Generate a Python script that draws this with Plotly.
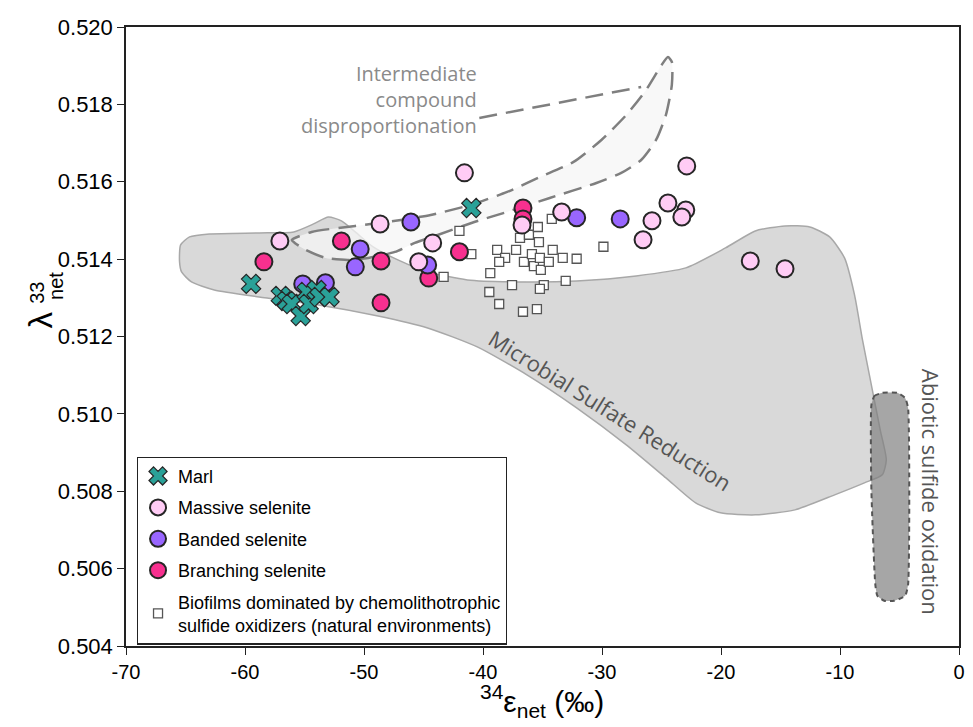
import plotly.graph_objects as go

# ---- sample data -------------------------------------------------------
marl_eps = [-59.49, -56.99, -56.49, -56.07, -55.32, -54.82, -54.65, -53.99, -53.74, -52.90, -40.98]
marl_lam = [0.51336, 0.51305, 0.51292, 0.51284, 0.51253, 0.51315, 0.51284, 0.51320, 0.51302, 0.51302, 0.51532]

massive_eps = [-57.07, -48.65, -41.56, -44.23, -45.40, -36.72, -33.39, -22.88, -24.46, -22.96,
               -23.29, -25.80, -26.55, -17.54, -14.62]
massive_lam = [0.51447, 0.51491, 0.51623, 0.51442, 0.51393, 0.51488, 0.51522, 0.51641, 0.51545, 0.51527,
               0.51509, 0.51499, 0.51450, 0.51395, 0.51375]

banded_eps = [-55.15, -53.24, -56.74, -50.73, -50.32, -46.06, -44.65, -32.13, -28.47]
banded_lam = [0.51336, 0.51339, 0.51297, 0.51380, 0.51426, 0.51496, 0.51385, 0.51507, 0.51504]

branching_eps = [-58.41, -51.90, -48.57, -48.57, -44.56, -41.98, -36.64, -36.64]
branching_lam = [0.51393, 0.51447, 0.51395, 0.51287, 0.51351, 0.51419, 0.51532, 0.51504]

biofilm_eps = [-41.98, -40.98, -43.31, -38.81, -38.14, -38.64, -37.22, -36.56, -36.89, -36.14,
               -35.39, -35.30, -35.89, -35.72, -35.22, -35.14, -34.47, -34.14, -34.22, -33.30,
               -32.13, -29.88, -39.39, -37.56, -39.47, -34.89, -35.22, -33.05, -38.64, -35.47,
               -36.64]
biofilm_lam = [0.51473, 0.51413, 0.51354, 0.51424, 0.51403, 0.51393, 0.51424, 0.51393, 0.51455, 0.51463,
               0.51483, 0.51444, 0.51413, 0.51382, 0.51403, 0.51372, 0.51393, 0.51424, 0.51504, 0.51403,
               0.51401, 0.51432, 0.51364, 0.51333, 0.51315, 0.51333, 0.51323, 0.51344, 0.51284, 0.51271,
               0.51264]

# ---- process fields ----------------------------------------------------
msr_eps = [-65.50, -65.41, -64.66, -62.99, -58.82, -55.91, -54.24, -52.99, -51.90, -50.73,
           -49.23, -47.15, -44.65, -41.31, -36.31, -32.13, -27.13, -22.96, -19.62, -17.12,
           -14.62, -12.54, -10.87, -9.62, -8.78, -8.11, -7.45, -6.62, -6.11, -6.45,
           -7.95, -10.45, -13.79, -17.12, -20.04, -22.13, -24.63, -27.96, -32.13, -36.31,
           -40.48, -44.65, -48.82, -53.82, -58.82, -62.58, -64.50, -65.33, -65.50]
msr_lam = [0.513928, 0.514367, 0.514574, 0.514651, 0.514677, 0.514703, 0.514910, 0.515090, 0.514987, 0.514703,
           0.514315, 0.513979, 0.513669, 0.513463, 0.513411, 0.513437, 0.513566, 0.513773, 0.514289, 0.514729,
           0.514858, 0.514832, 0.514574, 0.514031, 0.513075, 0.511912, 0.510879, 0.509587, 0.508811, 0.508424,
           0.508217, 0.507907, 0.507519, 0.507390, 0.507442, 0.507700, 0.508346, 0.509199, 0.510155, 0.511008,
           0.511731, 0.512222, 0.512532, 0.512817, 0.513023, 0.513204, 0.513411, 0.513669, 0.513928]

icd_eps = [-56.07, -54.40, -50.73, -46.90, -44.40, -41.06, -37.97, -35.22, -32.39, -30.05,
           -27.96, -26.30, -25.05, -24.46, -24.13, -24.13, -24.63, -25.46, -26.71, -28.38,
           -30.47, -34.39, -37.97, -40.73, -43.81, -45.73, -47.40, -49.65, -51.32, -53.24,
           -54.90, -55.82, -56.07]
icd_lam = [0.514496, 0.514703, 0.514858, 0.515013, 0.515142, 0.515401, 0.515736, 0.516124, 0.516512, 0.517080,
           0.517726, 0.518372, 0.518992, 0.519225, 0.519096, 0.518501, 0.517726, 0.517080, 0.516563, 0.516227,
           0.515969, 0.515581, 0.515220, 0.514961, 0.514625, 0.514419, 0.514186, 0.514031, 0.513979, 0.514031,
           0.514238, 0.514419, 0.514496]
icd_leader_eps = [-40.31, -26.71]
icd_leader_lam = [0.517649, 0.518450]

aso_eps = [-7.36, -7.11, -6.45, -5.20, -4.53, -4.28, -4.28, -4.53, -5.45, -6.28, -6.86, -7.03, -7.36, -7.36]
aso_lam = [0.510233, 0.510465, 0.510543, 0.510543, 0.510413, 0.510155, 0.505581, 0.505297, 0.505168, 0.505168,
           0.505297, 0.505581, 0.508000, 0.510233]

x_ticks = [-70, -60, -50, -40, -30, -20, -10, 0]
y_ticks = [0.504, 0.506, 0.508, 0.510, 0.512, 0.514, 0.516, 0.518, 0.520]

TEXT_FONT = "Open Sans"
AXIS_FONT = "Liberation Sans"
EDGE = "#262626"

fig = go.Figure()

# fields (drawn first, underneath the samples)
fig.add_trace(go.Scatter(x=msr_eps, y=msr_lam, mode="lines", fill="toself",
                         fillcolor="#d9d9d9", line=dict(color="#a8a8a8", width=1.5, shape="spline", smoothing=0.6),
                         showlegend=False, hoverinfo="skip"))
fig.add_trace(go.Scatter(x=icd_eps, y=icd_lam, mode="lines", fill="toself",
                         fillcolor="rgba(245,245,245,0.75)",
                         line=dict(color="#7f7f7f", width=2.5, dash="18px,9px", shape="spline", smoothing=0.6),
                         showlegend=False, hoverinfo="skip"))
fig.add_trace(go.Scatter(x=icd_leader_eps, y=icd_leader_lam, mode="lines",
                         line=dict(color="#7f7f7f", width=2.5, dash="18px,9px"),
                         showlegend=False, hoverinfo="skip"))
fig.add_trace(go.Scatter(x=aso_eps, y=aso_lam, mode="lines", fill="toself",
                         fillcolor="rgba(128,128,128,0.7)",
                         line=dict(color="#555555", width=2, dash="5px,4px", shape="spline", smoothing=0.5),
                         showlegend=False, hoverinfo="skip"))

# samples (legend order is set by legendrank, drawing order by trace order)
fig.add_trace(go.Scatter(x=biofilm_eps, y=biofilm_lam, mode="markers",
                         name="Biofilms dominated by chemolithotrophic<br>sulfide oxidizers (natural environments)",
                         marker=dict(symbol="square", size=9, color="white", line=dict(color="#555555", width=1.3)),
                         legendgroup="e", legendrank=5))
fig.add_trace(go.Scatter(x=branching_eps, y=branching_lam, mode="markers", name="Branching selenite",
                         marker=dict(symbol="circle", size=17, color="#f7308f", line=dict(color=EDGE, width=2)),
                         legendgroup="d", legendrank=4))
fig.add_trace(go.Scatter(x=banded_eps, y=banded_lam, mode="markers", name="Banded selenite",
                         marker=dict(symbol="circle", size=17, color="#9966ff", line=dict(color=EDGE, width=2)),
                         legendgroup="c", legendrank=3))
fig.add_trace(go.Scatter(x=massive_eps, y=massive_lam, mode="markers", name="Massive selenite",
                         marker=dict(symbol="circle", size=17, color="#ffccf5", line=dict(color=EDGE, width=2)),
                         legendgroup="b", legendrank=2))
fig.add_trace(go.Scatter(x=marl_eps, y=marl_lam, mode="markers", name="Marl",
                         marker=dict(symbol="x", size=17, color="#2aa198", line=dict(color=EDGE, width=1.2)),
                         legendgroup="a", legendrank=1))

# field labels
fig.add_annotation(x=-40.3, y=0.518114, xref="x", yref="y", xanchor="right", yanchor="middle",
                   text="Intermediate<br>compound<br>disproportionation", align="right", showarrow=False,
                   font=dict(family=TEXT_FONT, size=20, color="#8a8a8a"))
fig.add_annotation(x=-29.3, y=0.510103, xref="x", yref="y", text="Microbial Sulfate Reduction",
                   textangle=32, showarrow=False, font=dict(family=TEXT_FONT, size=22, color="#555555"))
fig.add_annotation(x=-2.35, y=0.507984, xref="x", yref="y", text="Abiotic sulfide oxidation",
                   textangle=90, showarrow=False, font=dict(family=TEXT_FONT, size=22, color="#555555"))

# axis titles (paper coordinates; plot area spans 839 x 619 px)
fig.add_annotation(x=0.4995, y=-0.0895, xref="paper", yref="paper", xanchor="center", yanchor="middle",
                   showarrow=False, text="<sup>34</sup>ε<sub>net</sub> (‰)",
                   font=dict(family=AXIS_FONT, size=30, color="black"))
fig.add_annotation(x=-0.1025, y=0.5267, xref="paper", yref="paper", xanchor="center", yanchor="middle",
                   textangle=-90, showarrow=False, text="λ",
                   font=dict(family=AXIS_FONT, size=33, color="black"))
fig.add_annotation(x=-0.1061, y=0.5700, xref="paper", yref="paper", xanchor="center", yanchor="middle",
                   textangle=-90, showarrow=False, text="33",
                   font=dict(family=AXIS_FONT, size=20, color="black"))
fig.add_annotation(x=-0.0834, y=0.5810, xref="paper", yref="paper", xanchor="center", yanchor="middle",
                   textangle=-90, showarrow=False, text="net",
                   font=dict(family=AXIS_FONT, size=20, color="black"))

fig.update_layout(
    width=973, height=727,
    margin=dict(l=126, r=8, t=27, b=81),
    paper_bgcolor="white", plot_bgcolor="white",
    showlegend=True,
    legend=dict(x=0.013, y=0.306, xanchor="left", yanchor="top",
                bgcolor="white", bordercolor="#222222", borderwidth=1.2,
                font=dict(family=AXIS_FONT, size=18, color="black"),
                tracegroupgap=5, traceorder="grouped", itemwidth=30),
    xaxis=dict(range=[-70, 0], tickvals=x_ticks, ticktext=[str(v) for v in x_ticks],
               showgrid=False, zeroline=False, showline=True, linecolor="#222222", linewidth=1.5,
               mirror=True, ticks="outside", ticklen=7, tickcolor="#222222",
               tickfont=dict(family=AXIS_FONT, size=20, color="black")),
    yaxis=dict(range=[0.504, 0.520], tickvals=y_ticks, ticktext=[f"{v:.3f}" for v in y_ticks],
               showgrid=False, zeroline=False, showline=True, linecolor="#222222", linewidth=1.5,
               mirror=True, ticks="outside", ticklen=7, tickcolor="#222222",
               tickfont=dict(family=AXIS_FONT, size=22, color="black")),
)

fig.write_html("out.html")
